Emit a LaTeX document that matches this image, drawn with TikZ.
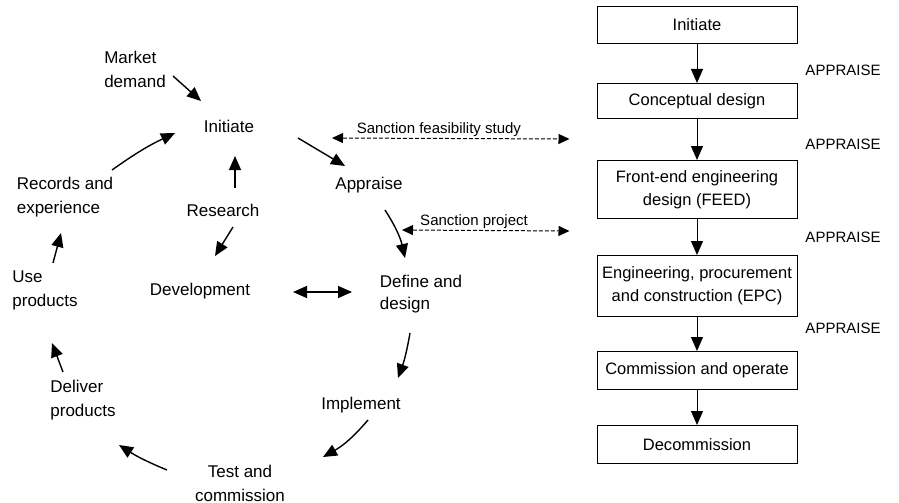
\documentclass[tikz,border=0pt]{standalone}
\usepackage{fontspec}
\setmainfont{Liberation Sans}
\usepackage{tikz}
\usetikzlibrary{arrows.meta,positioning}
\tikzstyle{arr}      =[->, line width=1.4pt, >={Triangle[length=14pt,width=12pt]}]
\tikzstyle{darr}     =[<->, line width=1pt, dash pattern=on 4pt off 2pt, >={Triangle[length=11pt,width=10pt]}]
\tikzstyle{stage}    =[draw, line width=1pt, minimum width=200pt, inner sep=1pt, align=center,
                       font=\fontsize{16.5}{23}\selectfont]
\tikzstyle{lbl}      =[font=\fontsize{15}{18}\selectfont]

\begin{document}
\begin{tikzpicture}[x=1pt, y=-1pt, every node/.style={font=\fontsize{17}{24}\selectfont, inner sep=1pt}]
  \useasboundingbox (0,0) rectangle (899,503);

  % life cycle
  \node[align=left] (mkt)  at (135,69)  {Market\\demand};
  \node             (init) at (229,126) {Initiate};
  \node             (appr) at (369,185) {Appraise};
  \node[align=left, font=\fontsize{17}{22}\selectfont] (dfn) at (421,294) {Define and\\design};
  \node             (impl) at (361,405) {Implement};
  \node[align=center] (test) at (240,483) {Test and\\commission};
  \node[align=left] (dlv)  at (83,400)  {Deliver\\products};
  \node[align=left] (use)  at (45,290)  {Use\\products};
  \node[align=left] (rec)  at (65,197)  {Records and\\experience};
  \node             (res)  at (223,210) {Research};
  \node             (dev)  at (200,291) {Development};

  \draw[arr] ([shift={(38,7)}]mkt.center)   -- ([shift={(-28,-25)}]init.center);
  \draw[arr] ([shift={(69,12)}]init.center) -- ([shift={(-24,-19)}]appr.center);
  \draw[arr] ([shift={(16,25)}]appr.center) to[bend left=10] ([shift={(-16,-36)}]dfn.center);
  \draw[arr] ([shift={(-11,39)}]dfn.center) to[bend left=5] ([shift={(37,-27)}]impl.center);
  \draw[arr] ([shift={(7,15)}]impl.center)  to[bend left=10] ([shift={(83,-26)}]test.center);
  \draw[arr] ([shift={(-73,-13)}]test.center) to[bend left=5] ([shift={(36,45)}]dlv.center);
  \draw[arr] ([shift={(-20,-28)}]dlv.center) -- ([shift={(7,53)}]use.center);
  \draw[arr] ([shift={(8,-27)}]use.center)  -- ([shift={(-4,36)}]rec.center);
  \draw[arr] ([shift={(47,-27)}]rec.center) to[bend left=5] ([shift={(-54,7)}]init.center);
  \draw[arr] ([shift={(12,-22)}]res.center) -- ([shift={(6,30)}]init.center);
  \draw[arr] ([shift={(10,17)}]res.center)  -- ([shift={(15,-35)}]dev.center);
  \draw[arr, <->] ([shift={(93,1)}]dev.center) -- ([shift={(-69,-2)}]dfn.center);

  % project stages
  \node[stage, minimum height=37pt] (ini)  at (697,25) {Initiate};
  \node[stage, minimum height=35pt, below=39pt of ini]  (cdes) {Conceptual design};
  \node[stage, minimum height=58pt, below=41pt of cdes] (feed) {Front-end engineering\\design (FEED)};
  \node[stage, minimum height=61pt, below=36pt of feed] (epc)  {Engineering, procurement\\and construction (EPC)};
  \node[stage, minimum height=38pt, below=34pt of epc]  (comm) {Commission and operate};
  \node[stage, minimum height=38pt, below=35pt of comm] (dcom) {Decommission};

  \draw[arr, line width=1pt] (ini)  -- (cdes);
  \draw[arr, line width=1pt] (cdes) -- (feed);
  \draw[arr, line width=1pt] (feed) -- (epc);
  \draw[arr, line width=1pt] (epc)  -- (comm);
  \draw[arr, line width=1pt] (comm) -- (dcom);

  % gates
  \node[lbl] (ap1) at (843,70)  {APPRAISE};
  \node[lbl] (ap2) at (843,144) {APPRAISE};
  \node[lbl] (ap3) at (843,237) {APPRAISE};
  \node[lbl] (ap4) at (843,328) {APPRAISE};

  % sanctions
  \draw[darr] ([shift={(-37,-47)}]appr.center) -- node[lbl, above, pos=0.45]{Sanction feasibility study}
              ([shift={(-27,20)}]cdes.south west);
  \draw[darr] ([shift={(-19,-64)}]dfn.center) -- node[lbl, above, pos=0.43]{Sanction project}
              ([shift={(-27,12)}]feed.south west);

\end{tikzpicture}
\end{document}
